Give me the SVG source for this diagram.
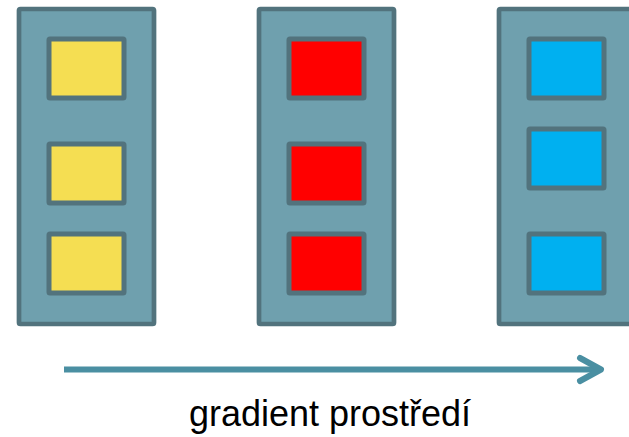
<svg xmlns="http://www.w3.org/2000/svg" width="629" height="437" viewBox="0 0 629 437">
<style>
.col{fill:#6FA0AE;stroke:#52737D;stroke-width:4.7}
.cell{stroke:#52737D;stroke-width:5}
.y{fill:#F5DE52}
.r{fill:#FF0000}
.b{fill:#00B0F0}
.arr{fill:none;stroke:#4A8FA2;stroke-width:6}
.lbl{font-family:"Liberation Sans",Arial,sans-serif;font-size:36px;fill:#000}
</style>
<g id="col1">
<rect class="col" x="19" y="9" width="135" height="315" rx="1.5"/>
<rect class="cell y" x="49" y="39" width="75" height="59" rx="1"/>
<rect class="cell y" x="49" y="144" width="75" height="59" rx="1"/>
<rect class="cell y" x="49" y="234" width="75" height="59" rx="1"/>
</g>
<g id="col2">
<rect class="col" x="259" y="9" width="135" height="315" rx="1.5"/>
<rect class="cell r" x="289" y="39" width="75" height="59" rx="1"/>
<rect class="cell r" x="289" y="144" width="75" height="59" rx="1"/>
<rect class="cell r" x="289" y="234" width="75" height="59" rx="1"/>
</g>
<g id="col3">
<rect class="col" x="499" y="9" width="135" height="315" rx="1.5"/>
<rect class="cell b" x="529" y="39" width="75" height="59" rx="1"/>
<rect class="cell b" x="529" y="129" width="75" height="59" rx="1"/>
<rect class="cell b" x="529" y="234" width="75" height="59" rx="1"/>
</g>
<g id="connectors">
<line class="arr" x1="64" y1="369.5" x2="601" y2="369.5"/>
<polyline class="arr" points="580,358 601,369.5 580,381" stroke-linecap="round" stroke-linejoin="round"/>
</g>
<g id="label">
<text class="lbl" x="330" y="426" text-anchor="middle">gradient prostředí</text>
</g>
</svg>
